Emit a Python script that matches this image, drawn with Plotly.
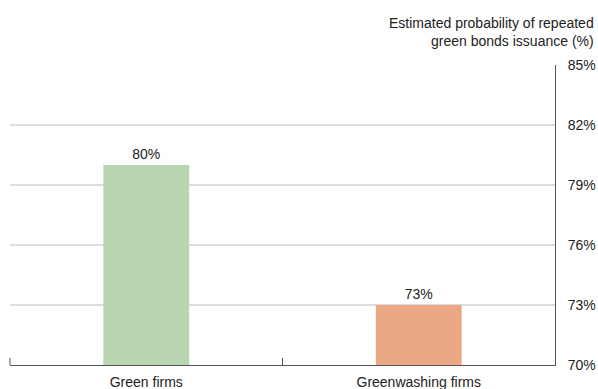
import plotly.graph_objects as go

categories = ["Green firms", "Greenwashing firms"]
values = [80, 73]
bar_colors = ["#b8d7b0", "#eba884"]
y_ticks = [70, 73, 76, 79, 82, 85]
y_tick_labels = [f"{v}%" for v in y_ticks]

FONT = "Liberation Sans, Arial, sans-serif"
TEXT = "#222222"
AXIS = "#555555"

fig = go.Figure(
    go.Bar(
        x=categories,
        y=values,
        base=0,
        marker=dict(color=bar_colors, line=dict(width=0)),
        width=0.315,
        text=[f"{v}%" for v in values],
        textposition="outside",
        textfont=dict(family=FONT, size=14, color=TEXT),
        cliponaxis=False,
        hoverinfo="skip",
    )
)

fig.update_layout(
    width=598,
    height=389,
    margin=dict(l=10, r=43, t=65, b=24),
    paper_bgcolor="white",
    plot_bgcolor="white",
    showlegend=False,
    font=dict(family=FONT, size=14, color=TEXT),
    annotations=[
        dict(
            text="Estimated probability of repeated<br>green bonds issuance (%)",
            xref="paper", yref="paper",
            x=1, y=1,
            xanchor="right", yanchor="bottom",
            yshift=14,
            xshift=41,
            align="right",
            showarrow=False,
            font=dict(family=FONT, size=14, color=TEXT),
        )
    ],
    # tick mark at the left end of the category axis
    shapes=[
        dict(
            type="line",
            xref="x domain", yref="y domain",
            x0=0, x1=0, y0=0, y1=7 / 300,
            line=dict(color=AXIS, width=1),
        )
    ],
)

fig.update_xaxes(
    type="category",
    range=[-0.5001, 1.5001],
    automargin=False,
    showline=True,
    linecolor=AXIS,
    linewidth=1,
    ticks="inside",
    tickson="boundaries",
    ticklen=7,
    tickcolor=AXIS,
    showgrid=False,
    tickfont=dict(family=FONT, size=14, color=TEXT),
    ticklabelstandoff=4,
)

fig.update_yaxes(
    range=[70, 85],
    automargin=False,
    side="right",
    showline=True,
    linecolor=AXIS,
    linewidth=1,
    tickmode="array",
    tickvals=y_ticks,
    ticktext=y_tick_labels,
    ticks="",
    showgrid=True,
    gridcolor="#dddddd",
    gridwidth=1.5,
    zeroline=False,
    tickfont=dict(family=FONT, size=14, color=TEXT),
    ticklabelstandoff=9,
)

fig.write_html("out.html")
